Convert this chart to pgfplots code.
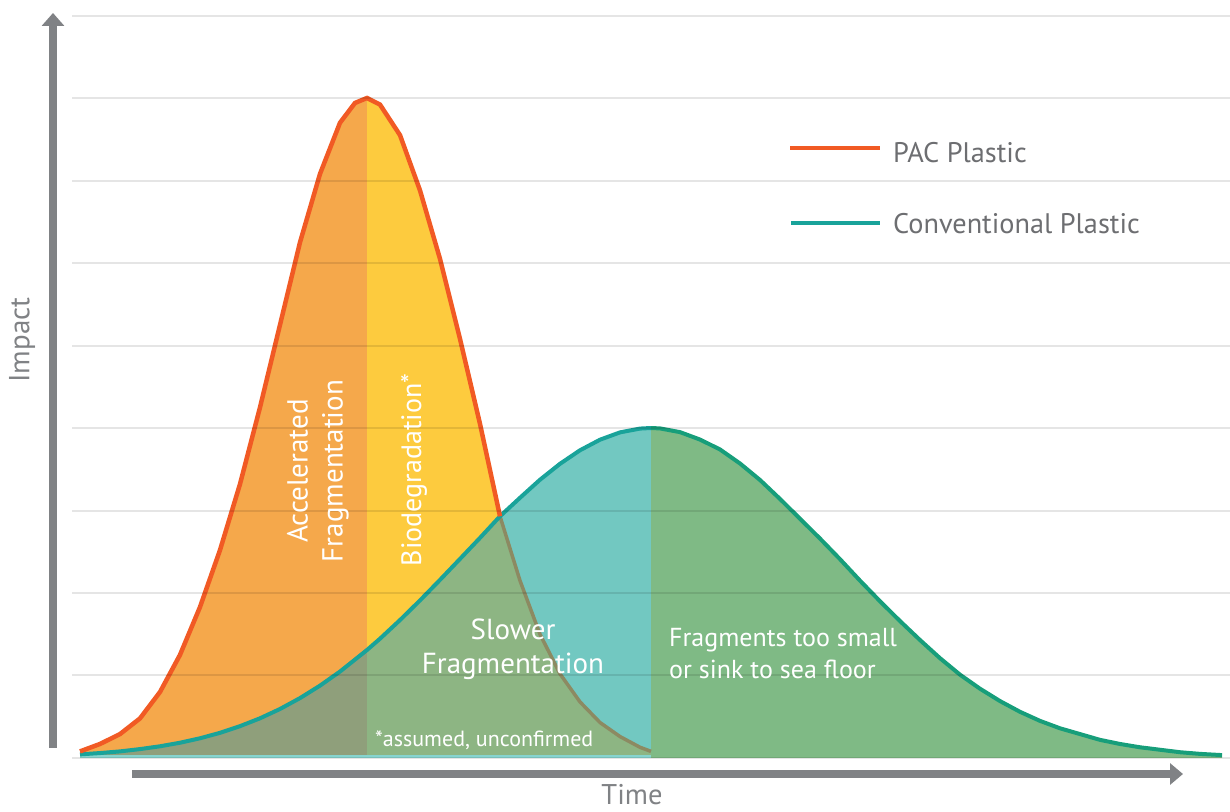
\documentclass[border=0pt]{standalone}
\usepackage{pgfplots}
\pgfplotsset{compat=1.18}
\usepackage{pgfplotstable}
\usetikzlibrary{arrows.meta}
\usepackage{fontspec}
\setmainfont{PT Sans}

\definecolor{orfill}{HTML}{F5A84B}
\definecolor{yefill}{HTML}{FDCB3E}
\definecolor{tefill}{HTML}{72C8C1}
\definecolor{grfill}{HTML}{7FBA85}
\definecolor{olfill}{HTML}{8F9F7B}
\definecolor{ggfill}{HTML}{8DB583}
\definecolor{orline}{HTML}{F15A24}
\definecolor{gyline}{HTML}{8C8A62}
\definecolor{teline}{HTML}{19A39A}
\definecolor{gtline}{HTML}{179E7A}
\definecolor{axgray}{HTML}{808285}
\definecolor{txgray}{HTML}{6D6E71}
\definecolor{stripc}{HTML}{86D4CE}

\pgfplotstableread{
x y
80 0.08
100 0.17
120 0.29
140 0.48
160 0.80
180 1.25
200 1.83
220 2.52
240 3.32
260 4.25
280 5.25
300 6.25
320 7.08
340 7.70
355 7.94
367 8.00
380 7.92
400 7.55
420 6.88
440 6.05
460 5.08
480 4.05
500 2.93
520 2.15
540 1.50
560 1.02
580 0.68
600 0.43
620 0.26
640 0.13
651 0.08
}\pac

\pgfplotstableread{
x y
80 0.044
100 0.060
120 0.080
140 0.108
160 0.142
180 0.185
200 0.239
220 0.305
240 0.386
260 0.481
280 0.594
300 0.726
320 0.877
340 1.048
367 1.309
380 1.446
400 1.672
420 1.910
440 2.159
460 2.413
480 2.668
500 2.930
520 3.154
540 3.373
560 3.566
580 3.730
600 3.858
620 3.947
640 3.993
651 4.000
660 3.995
680 3.950
700 3.860
720 3.740
740 3.570
760 3.370
780 3.140
800 2.900
820 2.660
840 2.410
860 2.150
880 1.900
900 1.660
920 1.430
940 1.210
960 1.010
980 0.840
1000 0.690
1020 0.560
1040 0.450
1060 0.360
1080 0.290
1100 0.220
1120 0.170
1140 0.130
1160 0.100
1180 0.070
1200 0.050
1222 0.035
}\conv

\begin{document}
\begin{tikzpicture}
\path[use as bounding box] (0bp,0bp) rectangle (1230bp,812bp);
\begin{axis}[
  at={(72bp,54bp)}, anchor=south west,
  scale only axis, width=1158bp, height=742.5bp,
  xmin=72, xmax=1230, ymin=0, ymax=9,
  axis line style={draw=none},
  xtick=\empty, ytick={0,1,...,9}, yticklabels={},
  tick style={draw=none}, major tick length=0pt,
  ymajorgrids,
  major grid style={line width=2bp, black, opacity=0.1},
  axis on top, clip=false]

% fills
\addplot[draw=none, fill=tefill, restrict x to domain=367:651] table {\conv} \closedcycle;
\addplot[draw=none, fill=orfill, restrict x to domain=80:367] table {\pac} \closedcycle;
\addplot[draw=none, fill=yefill, restrict x to domain=367:500] table {\pac} \closedcycle;
\addplot[draw=none, fill=olfill, restrict x to domain=80:367] table {\conv} \closedcycle;
\addplot[draw=none, fill=ggfill, restrict x to domain=367:500] table {\conv} \closedcycle;
\addplot[draw=none, fill=ggfill, restrict x to domain=500:651] table {\pac} \closedcycle;
\addplot[draw=none, fill=grfill, restrict x to domain=651:1222] table {\conv} \closedcycle;

\draw[stripc, line width=3bp] (axis cs:80,0.02) -- (axis cs:651,0.02);

% lines
\addplot[gyline, line width=3.5bp, restrict x to domain=500:651] table {\pac};
\addplot[teline, line width=4bp, restrict x to domain=80:651] table {\conv};
\addplot[gtline, line width=4bp, restrict x to domain=651:1222] table {\conv};
\addplot[orline, line width=4.5bp, restrict x to domain=80:500] table {\pac};
\end{axis}

% axis arrows
\draw[axgray, line width=8bp, -{Triangle[width=22bp,length=13bp]}] (53bp,64bp) -- (53bp,799bp);
\draw[axgray, line width=8bp, -{Triangle[width=21bp,length=13bp]}] (132bp,38bp) -- (1183bp,38bp);

% axis labels
\node[rotate=90, inner sep=0, text=axgray, font=\fontsize{29bp}{34bp}\selectfont] at (22bp,472bp) {Impact};
\node[inner sep=0, text=axgray, font=\fontsize{28.5bp}{34bp}\selectfont] at (632bp,17bp) {Time};

% legend
\draw[orline, line width=4bp] (790bp,664bp) -- (880bp,664bp);
\node[anchor=base west, inner sep=0, text=txgray, font=\fontsize{28.3bp}{34bp}\selectfont] at (893bp,649bp) {PAC Plastic};
\draw[teline, line width=4bp] (791bp,589bp) -- (880bp,589bp);
\node[anchor=base west, inner sep=0, text=txgray, font=\fontsize{28.3bp}{34bp}\selectfont] at (893bp,578bp) {Conventional Plastic};

% region labels
\node[rotate=90, align=center, inner sep=0, text=white, font=\fontsize{29bp}{35bp}\selectfont] at (318bp,341bp) {Accelerated\\Fragmentation};
\node[rotate=90, inner sep=0, text=white, font=\fontsize{28bp}{32bp}\selectfont] at (414bp,342bp) {Biodegradation*};
\node[align=center, inner sep=0, text=white, font=\fontsize{29bp}{34bp}\selectfont] at (513bp,163bp) {Slower\\Fragmentation};
\node[align=left, anchor=west, inner sep=0, text=white, font=\fontsize{26bp}{32bp}\selectfont] at (669bp,158bp) {Fragments too small\\or sink to sea floor};
\node[anchor=west, inner sep=0, text=white, font=\fontsize{22bp}{26bp}\selectfont] at (375bp,72bp) {*assumed, unconfirmed};
\end{tikzpicture}
\end{document}
